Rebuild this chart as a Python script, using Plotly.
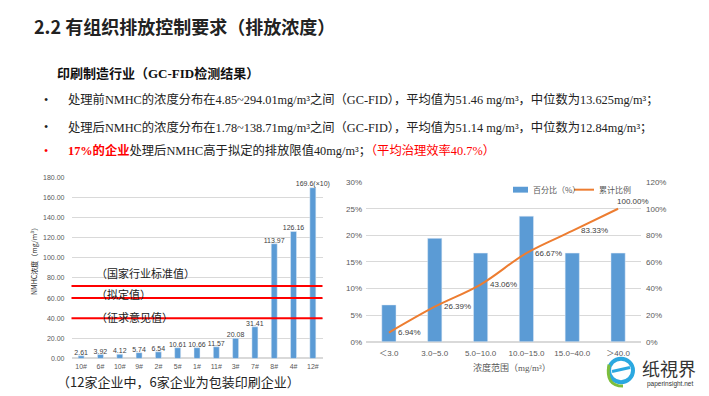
import plotly.graph_objects as go

W, H = 709, 396

# ---------------- data ----------------
title_text = "2.2 有组织排放控制要求（排放浓度）"
subtitle_text = "印刷制造行业（GC-FID检测结果）"
bullet_texts = [
    "处理前NMHC的浓度分布在4.85~294.01mg/m³之间（GC-FID），平均值为51.46 mg/m³，中位数为13.625mg/m³；",
    "处理后NMHC的浓度分布在1.78~138.71mg/m³之间（GC-FID），平均值为51.14 mg/m³，中位数为12.84mg/m³；",
    "<span style='color:#FF0000'><b>17%的企业</b></span>处理后NMHC高于拟定的排放限值40mg/m³；"
    "<span style='color:#FF0000'>（平均治理效率40.7%）</span>",
]
bullet_colors = ["#222222", "#222222", "#FF0000"]

enterprises = ["10#", "6#", "10#", "9#", "2#", "5#", "1#", "11#", "3#", "7#", "8#", "4#", "12#"]
nmhc_values = [2.61, 3.92, 4.12, 5.74, 6.54, 10.61, 10.66, 11.57, 20.08, 31.41, 113.97, 126.16, 169.6]
nmhc_labels = ["2.61", "3.92", "4.12", "5.74", "6.54", "10.61", "10.66", "11.57",
               "20.08", "31.41", "113.97", "126.16", "169.6(×10)"]
limit_values = [72, 60, 40]
limit_names = ["（国家行业标准值）", "（拟定值）", "（征求意见值）"]
footnote_text = "（12家企业中，6家企业为包装印刷企业）"

conc_ranges = ["＜3.0", "3.0~5.0", "5.0~10.0", "10.0~15.0", "15.0~40.0", "＞40.0"]
percent_values = [6.94, 19.44, 16.67, 23.61, 16.67, 16.67]
cumulative_values = [6.94, 26.39, 43.06, 66.67, 83.33, 100.00]
cumulative_labels = ["6.94%", "26.39%", "43.06%", "66.67%", "83.33%", "100.00%"]
legend_names = ["百分比（%）", "累计比例"]

BLUE = "#5B9BD5"
ORANGE = "#ED7D31"
GRAY = "#595959"
GRID = "#D9D9D9"
CJK = "Noto Sans CJK SC"
SERIF = "Liberation Serif, Noto Sans CJK SC"
SANS = "Liberation Sans, Noto Sans CJK SC"


def px(x):
    return x / W


def py(y):
    return 1 - y / H


fig = go.Figure()

# left chart bars
idx = list(range(len(enterprises)))
fig.add_trace(go.Bar(
    x=idx, y=nmhc_values, text=nmhc_labels, textposition="outside", constraintext="none",
    textfont=dict(size=7, color="#404040", family=SANS),
    marker_color=BLUE, width=0.31, cliponaxis=False, showlegend=False,
    xaxis="x", yaxis="y",
))

# right chart bars + cumulative line
cidx = list(range(len(conc_ranges)))
fig.add_trace(go.Bar(
    x=cidx, y=percent_values, name=legend_names[0], marker_color=BLUE, width=0.31,
    xaxis="x2", yaxis="y2", showlegend=False,
))
fig.add_trace(go.Scatter(
    x=cidx, y=cumulative_values, name=legend_names[1], mode="lines",
    line=dict(color=ORANGE, width=2, shape="spline"),
    cliponaxis=False, xaxis="x2", yaxis="y3", showlegend=False,
))

# limit lines
shapes = []
for v in limit_values:
    shapes.append(dict(type="line", xref="x domain", yref="y", x0=0, x1=1, y0=v, y1=v,
                       line=dict(color="#FF0000", width=2), layer="above"))

annotations = []
# cumulative labels
for i, (xv, yv, lab) in enumerate(zip(cidx, cumulative_values, cumulative_labels)):
    last = i == len(cidx) - 1
    annotations.append(dict(text=lab, x=xv, y=yv, xref="x2", yref="y3",
                            xanchor="left", yanchor="bottom" if last else "middle",
                            xshift=-3 if last else 7, yshift=1 if last else 0,
                            showarrow=False, font=dict(size=8, color="#404040", family=SANS)))

# title etc.
annotations.append(dict(text="<b>" + title_text + "</b>", x=px(32), y=py(23), xref="paper", yref="paper",
                        xanchor="left", yanchor="middle", showarrow=False,
                        font=dict(size=18, color="#222222", family=CJK)))
annotations.append(dict(text="<b>" + subtitle_text + "</b>", x=px(55), y=py(71), xref="paper", yref="paper",
                        xanchor="left", yanchor="middle", showarrow=False,
                        font=dict(size=13, color="#111111", family=SERIF)))
for i, (t, c) in enumerate(zip(bullet_texts, bullet_colors)):
    yy = [98, 126, 150][i]
    annotations.append(dict(text="•", x=px(42), y=py(yy), xref="paper", yref="paper",
                            xanchor="left", yanchor="middle", showarrow=False,
                            font=dict(size=12, color=c, family=SERIF)))
    annotations.append(dict(text=t, x=px(66), y=py(yy), xref="paper", yref="paper",
                            xanchor="left", yanchor="middle", showarrow=False,
                            font=dict(size=12.3, color="#222222", family=SERIF)))

# limit labels
for v, name, sh in zip(limit_values, limit_names, [13, 4, 1]):
    annotations.append(dict(text=name, x=px(94), y=v, xref="paper", yref="y", yshift=sh,
                            xanchor="left", yanchor="middle", showarrow=False,
                            font=dict(size=11, color="#222222", family=CJK)))

# left y-axis title
annotations.append(dict(text="NMHC浓度（mg/m³）", x=px(34), y=py(262), xref="paper", yref="paper",
                        textangle=-90, showarrow=False, xanchor="center", yanchor="middle",
                        font=dict(size=7, color="#222222", family=CJK)))
# footnote
annotations.append(dict(text=footnote_text, x=px(55), y=py(386.5), xref="paper", yref="paper",
                        xanchor="left", yanchor="middle", showarrow=False,
                        font=dict(size=13, color="#222222", family=CJK)))
# right x-axis title
annotations.append(dict(text="浓度范围（mg/m³）", x=px(512), y=py(372), xref="paper", yref="paper",
                        xanchor="center", yanchor="middle", showarrow=False,
                        font=dict(size=9, color=GRAY, family=SERIF)))

# manual legend
shapes.append(dict(type="rect", xref="paper", yref="paper", x0=px(513), x1=px(528),
                   y0=py(193), y1=py(187), fillcolor=BLUE, line=dict(width=0)))
annotations.append(dict(text=legend_names[0], x=px(531), y=py(190), xref="paper", yref="paper",
                        xanchor="left", yanchor="middle", showarrow=False,
                        font=dict(size=8, color=GRAY, family=CJK)))
shapes.append(dict(type="line", xref="paper", yref="paper", x0=px(574), x1=px(594),
                   y0=py(190), y1=py(190), line=dict(color=ORANGE, width=2)))
annotations.append(dict(text=legend_names[1], x=px(597), y=py(190), xref="paper", yref="paper",
                        xanchor="left", yanchor="middle", showarrow=False,
                        font=dict(size=8, color=GRAY, family=CJK)))

# watermark
annotations.append(dict(text="纸視界", x=px(669), y=py(372), xref="paper", yref="paper",
                        xanchor="center", yanchor="middle", showarrow=False,
                        font=dict(size=18, color="#333333", family=CJK)))
annotations.append(dict(text="paperinsight.net", x=px(670), y=py(389), xref="paper", yref="paper",
                        xanchor="center", yanchor="middle", showarrow=False,
                        font=dict(size=6.5, color="#333333", family=SANS)))
shapes.append(dict(type="circle", xref="paper", yref="paper",
                   x0=px(609), x1=px(633), y0=py(387), y1=py(363),
                   line=dict(color="#2BA8E0", width=4)))
shapes.append(dict(type="line", xref="paper", yref="paper",
                   x0=px(612), x1=px(630), y0=py(376), y1=py(372),
                   line=dict(color="#2BA8E0", width=3)))
shapes.append(dict(type="path", xref="paper", yref="paper",
                   path=f"M {px(609)},{py(369)} Q {px(605)},{py(391)} {px(623)},{py(391)}",
                   line=dict(color="#7DBE3C", width=3)))

fig.update_layout(
    width=W, height=H, margin=dict(l=0, r=0, t=0, b=0),
    paper_bgcolor="white", plot_bgcolor="white",
    font=dict(family=SANS, color=GRAY),
    showlegend=False,
    xaxis=dict(domain=[px(71.5), px(322.5)], range=[-0.5, len(enterprises) - 0.5],
               tickvals=idx, ticktext=enterprises, tickfont=dict(size=7, color=GRAY),
               showgrid=False, showline=False, zeroline=False, ticks="", anchor="y",
               ticklabelstandoff=3),
    yaxis=dict(domain=[py(362.7), py(177.3)], range=[0, 180], dtick=20, tickformat=".2f",
               tickfont=dict(size=7, color=GRAY), gridcolor=GRID, gridwidth=1,
               zeroline=True, zerolinecolor=GRID, showline=False, ticks="", anchor="x",
               ticklabelstandoff=6),
    xaxis2=dict(domain=[px(366), px(641)], range=[-0.5, len(conc_ranges) - 0.5],
                tickvals=cidx, ticktext=conc_ranges, tickfont=dict(size=8, color=GRAY, family=SANS),
                showgrid=False, showline=False, zeroline=False, ticks="", anchor="y2",
                ticklabelstandoff=5),
    yaxis2=dict(domain=[py(345.7), py(182.3)], range=[0, 30], dtick=5, ticksuffix="%",
                tickfont=dict(size=8, color=GRAY), gridcolor=GRID, zeroline=True, zerolinecolor=GRID,
                showline=False, ticks="", anchor="x2", ticklabelstandoff=3),
    yaxis3=dict(range=[0, 120], dtick=20, ticksuffix="%", overlaying="y2", side="right",
                tickfont=dict(size=8, color=GRAY), showgrid=False, zeroline=False,
                showline=False, ticks="", anchor="x2", ticklabelstandoff=4),
    shapes=shapes, annotations=annotations,
)

fig.write_html("out.html", config={"displayModeBar": False},
               post_script="document.body.style.margin='0px';")
